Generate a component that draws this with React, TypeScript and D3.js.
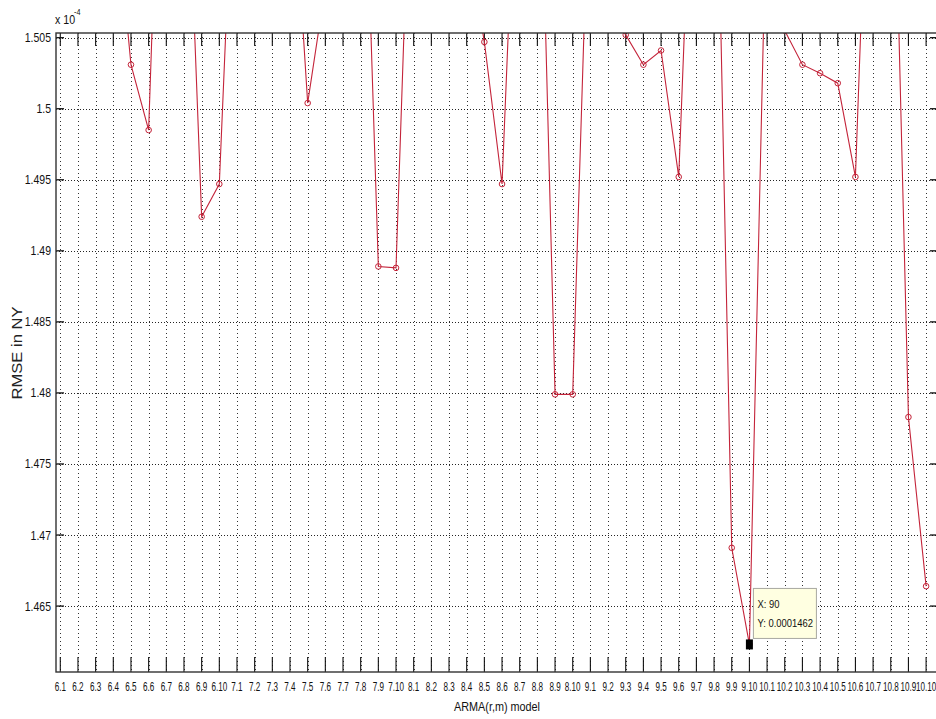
import React from "react";
import * as d3 from "d3";

// ARMA(r,m) model index: x = (r-1)*10 + m, r = 6..10, m = 1..10
const xIndex: number[] = d3.range(51, 101);
const tickLabels: string[] = [
  "6.1", "6.2", "6.3", "6.4", "6.5", "6.6", "6.7", "6.8", "6.9", "6.10",
  "7.1", "7.2", "7.3", "7.4", "7.5", "7.6", "7.7", "7.8", "7.9", "7.10",
  "8.1", "8.2", "8.3", "8.4", "8.5", "8.6", "8.7", "8.8", "8.9", "8.10",
  "9.1", "9.2", "9.3", "9.4", "9.5", "9.6", "9.7", "9.8", "9.9", "9.10",
  "10.1", "10.2", "10.3", "10.4", "10.5", "10.6", "10.7", "10.8", "10.9", "10.10",
];
// RMSE values in units of 1e-4
const rmse: number[] = [
  1.520, 1.518, 1.522, 1.5163, 1.5031, 1.4985, 1.535, 1.525, 1.4924, 1.4947,
  1.524, 1.521, 1.519, 1.520, 1.5004, 1.5086, 1.518, 1.528, 1.4889, 1.4888,
  1.5256, 1.521, 1.517, 1.512, 1.5047, 1.4947, 1.525, 1.5278, 1.4799, 1.4799,
  1.520, 1.507, 1.5052, 1.5031, 1.5041, 1.4952, 1.5272, 1.5283, 1.4691, 1.4623,
  1.5167, 1.5055, 1.5031, 1.5025, 1.5018, 1.4952, 1.5296, 1.5286, 1.4783, 1.4664,
];
const yTicks: number[] = [1.465, 1.47, 1.475, 1.48, 1.485, 1.49, 1.495, 1.5, 1.505];
const yTickLabels: string[] = ["1.465", "1.47", "1.475", "1.48", "1.485", "1.49", "1.495", "1.5", "1.505"];
const tipX = 90;
const tipLines: string[] = ["X: 90", "Y: 0.0001462"];

const FONT = "'Liberation Sans', Arial, Helvetica, sans-serif";

export default function App() {
  const W = 936, H = 719;
  const left = 56, right = 939, top = 33, bottom = 672;
  const x = d3.scaleLinear().domain([50.757, 100.73]).range([left, right]);
  const y = d3.scaleLinear().domain([1.46036, 1.50533]).range([bottom, top]);
  const red = "#c4243a";
  const pts = xIndex.map((xi, i) => [xi, rmse[i]] as [number, number]);
  const line = d3.line<[number, number]>().x((d) => x(d[0])).y((d) => y(d[1]))(pts) || "";
  const tipIdx = xIndex.indexOf(tipX);
  const tipPx = x(tipX), tipPy = y(rmse[tipIdx]);

  return (
    <svg width={W} height={H} style={{ position: "absolute", left: 0, top: 0, background: "#fff" }}
      fontFamily={FONT}>
      <defs>
        <clipPath id="plotclip">
          <rect x={left} y={top} width={right - left} height={bottom - top} />
        </clipPath>
      </defs>
      <rect x={0} y={0} width={W} height={H} fill="#fff" />
      {/* grid */}
      {xIndex.map((xi) => (
        <line key={"gx" + xi} x1={Math.round(x(xi)) + 0.5} x2={Math.round(x(xi)) + 0.5} y1={top} y2={bottom}
          stroke="#000" strokeWidth={1} strokeDasharray="1 3" opacity={0.8} />
      ))}
      {yTicks.map((v) => (
        <line key={"gy" + v} x1={left} x2={right} y1={Math.round(y(v)) + 0.5} y2={Math.round(y(v)) + 0.5}
          stroke="#000" strokeWidth={1} strokeDasharray="1 2" opacity={0.85} />
      ))}
      {/* ticks */}
      {xIndex.map((xi) => (
        <g key={"tx" + xi}>
          <line x1={x(xi)} x2={x(xi)} y1={bottom} y2={bottom - 15} stroke="#111" strokeWidth={1.1} />
          <line x1={x(xi)} x2={x(xi)} y1={top} y2={top + 13} stroke="#111" strokeWidth={1.1} />
        </g>
      ))}
      {yTicks.map((v) => (
        <g key={"ty" + v}>
          <line x1={left} x2={left + 8} y1={y(v)} y2={y(v)} stroke="#111" strokeWidth={1.3} />
          <line x1={right} x2={right - 9} y1={y(v)} y2={y(v)} stroke="#111" strokeWidth={1.3} />
        </g>
      ))}
      {/* data */}
      <g clipPath="url(#plotclip)">
        <path d={line} fill="none" stroke={red} strokeWidth={1.1} />
        {pts.map((d, i) => (
          <circle key={"m" + i} cx={x(d[0])} cy={y(d[1])} r={2.8} fill="none" stroke={red} strokeWidth={1} />
        ))}
      </g>
      {/* axes frame */}
      <rect x={left} y={top} width={right - left} height={bottom - top} fill="none" stroke="#333" strokeWidth={1.4} />
      {/* x tick labels */}
      {xIndex.map((xi, i) => (
        <text key={"lx" + xi} transform={`translate(${x(xi)},${bottom + 18.5}) scale(0.6,1)`}
          textAnchor="middle" fontSize={13.5} fill="#111">{tickLabels[i]}</text>
      ))}
      {/* y tick labels */}
      {yTicks.map((v, i) => (
        <text key={"ly" + v} transform={`translate(51,${y(v) + 4.5}) scale(0.84,1)`}
          textAnchor="end" fontSize={12.5} fill="#111">{yTickLabels[i]}</text>
      ))}
      {/* exponent */}
      <text transform="translate(55,24) scale(0.85,1)" fontSize={12.5} fill="#111">x 10</text>
      <text transform="translate(74,15) scale(0.85,1)" fontSize={8.5} fill="#111">-4</text>
      {/* axis labels */}
      <text x={497} y={711} textAnchor="middle" fontSize={13.5} fill="#111" textLength={86}
        lengthAdjust="spacingAndGlyphs">ARMA(r,m) model</text>
      <text transform="translate(22,353) rotate(-90)" textAnchor="middle" fontSize={14} fill="#222"
        textLength={93} lengthAdjust="spacingAndGlyphs">RMSE in NY</text>
      {/* datatip */}
      <rect x={tipPx + 4} y={tipPy - 56} width={63} height={50} fill="#ffffe1" stroke="#a8a8a0" strokeWidth={1} />
      {tipLines.map((t, i) => (
        <text key={"tip" + i} transform={`translate(${tipPx + 8},${tipPy - 36 + i * 19}) scale(0.82,1)`}
          fontSize={11.5} fill="#111">{t}</text>
      ))}
      <rect x={tipPx - 3.5} y={tipPy - 5} width={7} height={10} fill="#000" />
    </svg>
  );
}
